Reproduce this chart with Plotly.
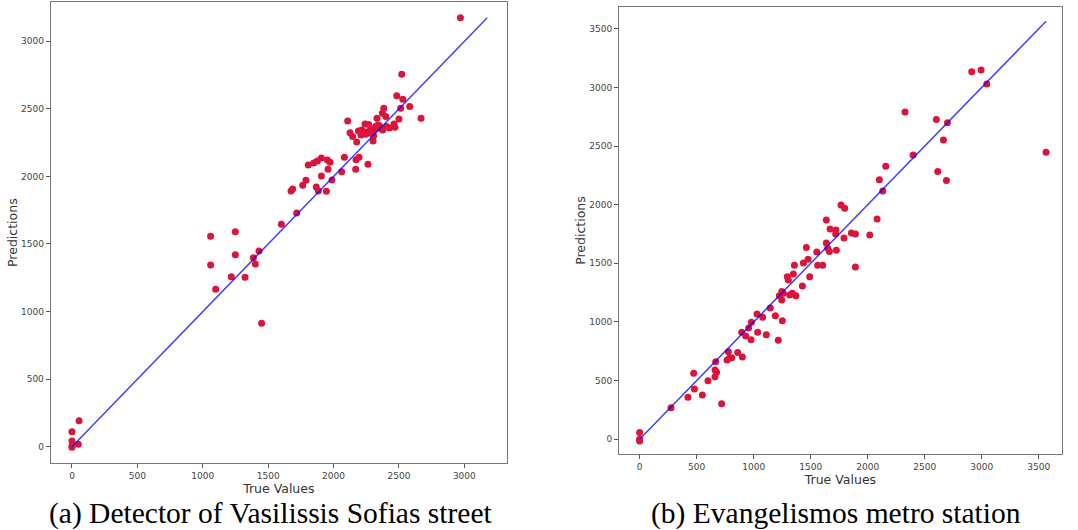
import plotly.graph_objects as go

# Panel (a): Detector of Vasilissis Sofias street
true_a = [0, 0, 0, 0, 54, 48, 1060, 1060, 1099, 1249, 1249, 1218, 1323, 1387, 1402, 1430, 1450,
          1601, 1718, 1675, 1687, 1764, 1789, 1807, 1848, 1876, 1907, 1868, 1884, 1907, 1945,
          1953, 1973, 1958, 1988, 2062, 2083, 2108, 2126, 2146, 2177, 2169, 2172, 2195, 2190,
          2215, 2210, 2240, 2246, 2263, 2269, 2284, 2297, 2302, 2307, 2322, 2332, 2340, 2355,
          2373, 2384, 2376, 2399, 2406, 2427, 2462, 2470, 2483, 2500, 2513, 2521, 2529, 2582,
          2669, 2970, 2280, 2315, 2330, 2350, 2260]
pred_a = [-5, 42, 111, 5, 192, 17, 1557, 1345, 1165, 1591, 1421, 1258, 1253, 1399, 1352, 1448, 913,
          1646, 1730, 1892, 1907, 1934, 1971, 2085, 2100, 2114, 2137, 1922, 1892, 2003, 1890,
          2122, 2105, 2053, 1974, 2035, 2142, 2411, 2324, 2295, 2255, 2053, 2124, 2142, 2337,
          2344, 2307, 2388, 2312, 2090, 2385, 2319, 2344, 2263, 2302, 2369, 2430, 2381, 2356,
          2467, 2504, 2344, 2443, 2369, 2359, 2388, 2364, 2598, 2425, 2504, 2756, 2571, 2517,
          2430, 3175, 2335, 2350, 2360, 2375, 2330]

# Panel (b): Evangelismos metro station
true_b = [0, 0, 0, 275, 424, 474, 480, 550, 599, 661, 667, 675, 661, 719, 766, 778, 787, 807, 860,
          901, 895, 930, 956, 980, 977, 1029, 1035, 1079, 1111, 1146, 1190, 1216, 1225, 1246, 1246,
          1251, 1260, 1295, 1304, 1316, 1339, 1348, 1357, 1371, 1427, 1436, 1462, 1477, 1491, 1553,
          1561, 1605, 1637, 1637, 1649, 1664, 1670, 1722, 1719, 1725, 1766, 1798, 1792, 1857, 1892,
          1892, 2018, 2082, 2102, 2132, 2158, 2327, 2398, 2602, 2614, 2664, 2690, 2699, 2912, 2994,
          3044, 3564]
pred_b = [57, 0, -14, 270, 358, 563, 429, 378, 500, 591, 662, 571, 534, 304, 676, 747, 690, 696, 739,
          702, 912, 881, 949, 997, 849, 1068, 912, 1040, 892, 1119, 1054, 844, 1224, 1259, 1188,
          1011, 1244, 1386, 1358, 1230, 1244, 1409, 1483, 1224, 1307, 1503, 1636, 1534, 1386, 1597,
          1483, 1483, 1869, 1673, 1628, 1602, 1793, 1784, 1750, 1611, 1997, 1969, 1716, 1759, 1750,
          1469, 1741, 1878, 2213, 2116, 2327, 2790, 2423, 2727, 2284, 2551, 2207, 2699, 3134, 3148,
          3028, 2446]

captions = ["(a) Detector of Vasilissis Sofias street", "(b) Evangelismos metro station"]
x_title = "True Values"
y_title = "Predictions"

fig = go.Figure()

def add_panel(tv, pv, xa, ya):
    fig.add_trace(go.Scatter(x=tv, y=pv, mode="markers", xaxis=xa, yaxis=ya,
                             marker=dict(color="#DC143C", size=7, line=dict(width=0)),
                             showlegend=False))
    lo = max(min(min(tv), min(pv)), 0)
    hi = max(max(tv), max(pv))
    fig.add_trace(go.Scatter(x=[lo, hi], y=[lo, hi], mode="lines", xaxis=xa, yaxis=ya,
                             line=dict(color="rgba(0,0,255,0.75)", width=1.5),
                             showlegend=False))

add_panel(true_a, pred_a, "x", "y")
add_panel(true_b, pred_b, "x2", "y2")

axis_common = dict(showgrid=False, zeroline=False, showline=True, mirror=True,
                   linecolor="#777", linewidth=1, ticks="outside", ticklen=4,
                   tickcolor="#555", tickfont=dict(family="DejaVu Sans", size=9, color="#444"))
title_font = dict(family="DejaVu Sans", size=12.5, color="#333")

fig.update_layout(
    width=1078, height=530, autosize=False,
    margin=dict(l=0, r=0, t=0, b=0),
    plot_bgcolor="white", paper_bgcolor="white",
    xaxis=dict(domain=[0.047, 0.4703], range=[-163, 3326], anchor="y",
               tickvals=[0, 500, 1000, 1500, 2000, 2500, 3000],
               title=dict(text=x_title, font=title_font, standoff=0), **axis_common),
    yaxis=dict(domain=[0.1264, 0.9957], range=[-121, 3289], anchor="x",
               tickvals=[0, 500, 1000, 1500, 2000, 2500, 3000],
               title=dict(text=y_title, font=title_font, standoff=0), **axis_common),
    xaxis2=dict(domain=[0.5742, 0.985], range=[-181, 3702], anchor="y2",
                tickvals=[0, 500, 1000, 1500, 2000, 2500, 3000, 3500],
                title=dict(text=x_title, font=title_font, standoff=0), **axis_common),
    yaxis2=dict(domain=[0.1428, 0.9874], range=[-128, 3688], anchor="x2",
                tickvals=[0, 500, 1000, 1500, 2000, 2500, 3000, 3500],
                title=dict(text=y_title, font=title_font, standoff=0), **axis_common),
)

for cx, txt in zip([270 / 1078, 836 / 1078], captions):
    fig.add_annotation(x=cx, y=1 - 513 / 530, xref="paper", yref="paper", text=txt,
                       showarrow=False, xanchor="center", yanchor="middle",
                       font=dict(family="Liberation Serif", size=29.5, color="black"))

fig.write_html("out.html", config={"displayModeBar": False},
               post_script="document.body.style.margin='0';document.body.style.overflow='hidden';")
